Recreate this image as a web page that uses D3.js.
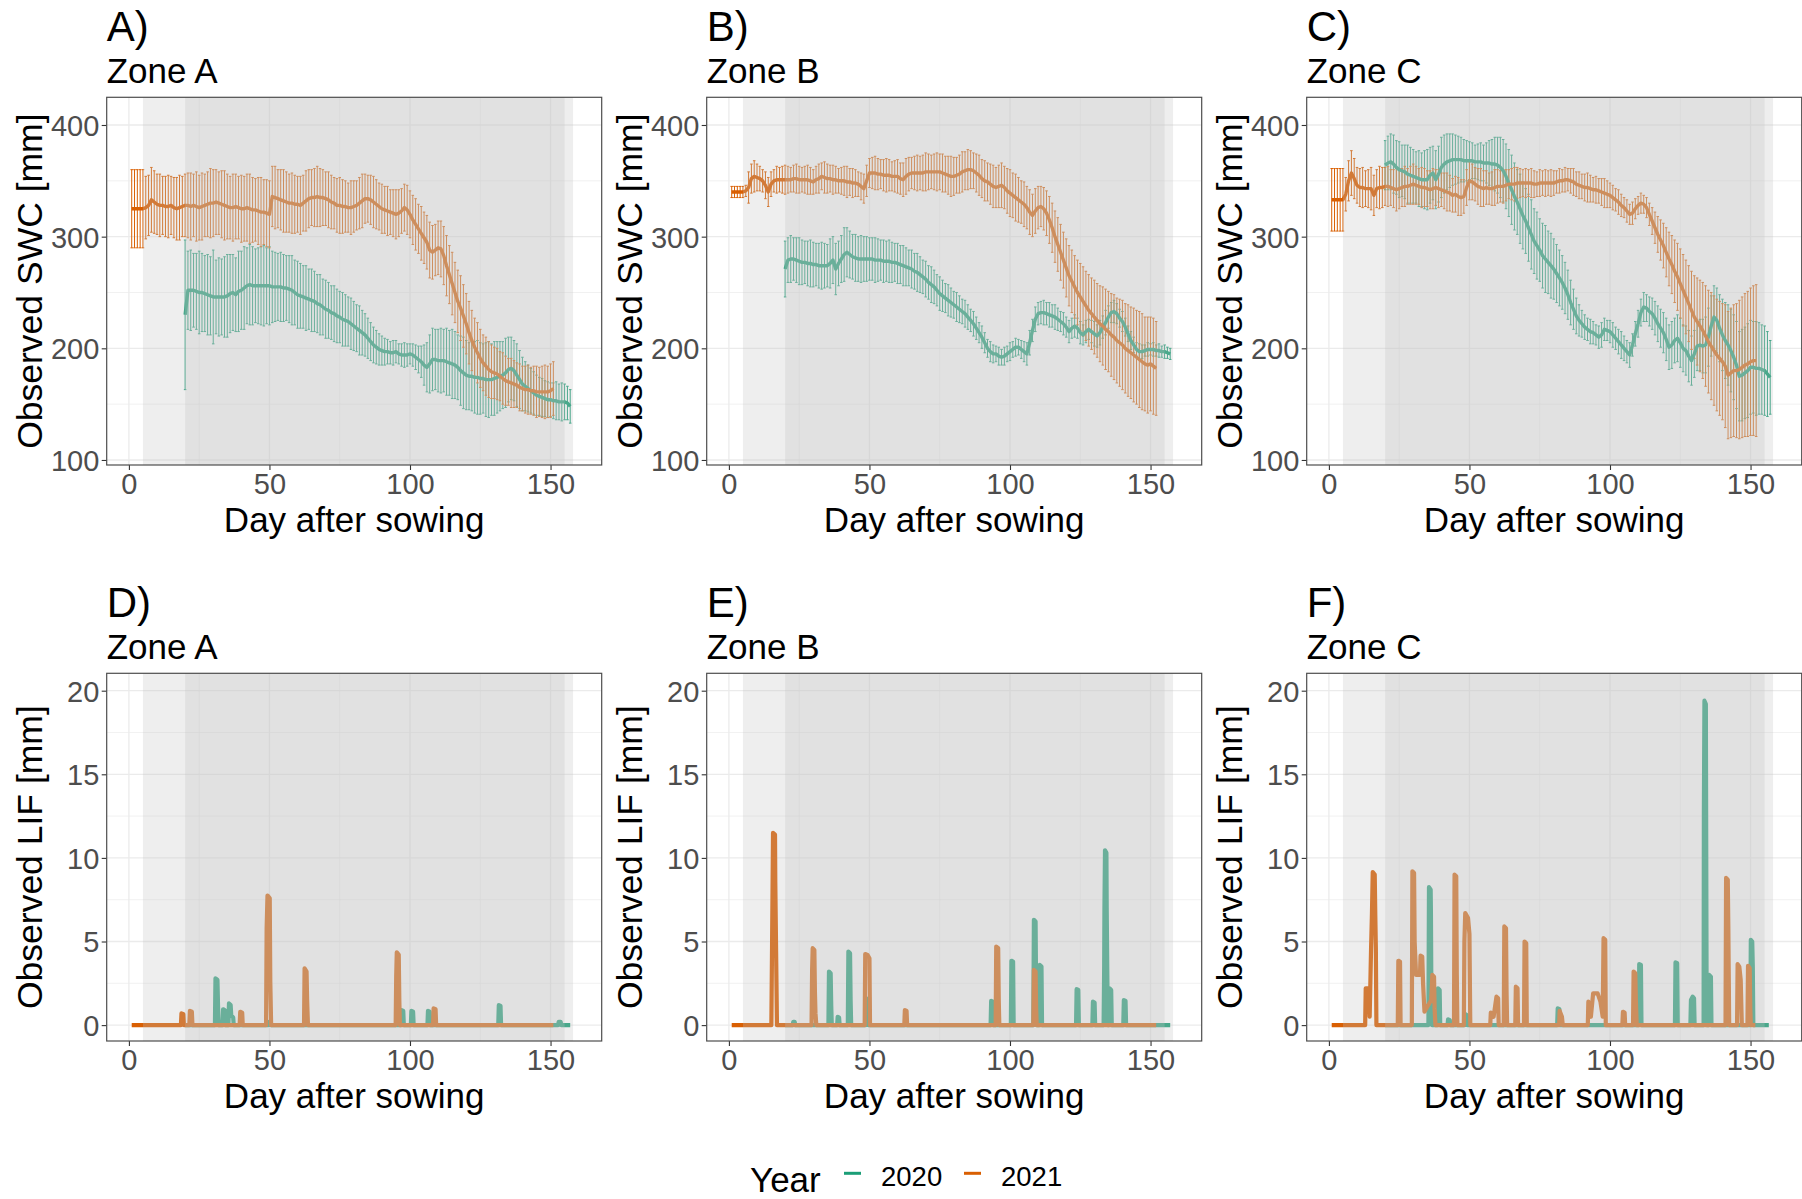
<!DOCTYPE html>
<html>
<head>
<meta charset="utf-8">
<script src="https://cdn.jsdelivr.net/npm/d3@7"></script>
<style>
  html, body { margin: 0; padding: 0; background: #fff; }
  svg { display: block; font-family: "Liberation Sans", Arial, sans-serif; }
</style>
</head>
<body>
<svg id="chart" width="1802" height="1199"></svg>
<script>
// ---------------- data ----------------
const years = ["2020", "2021"];
const yearColors = ["#1b9e77", "#d95f02"];
const zones = ["Zone A", "Zone B", "Zone C"];
const swcLetters = ["A)", "B)", "C)"];
const lifLetters = ["D)", "E)", "F)"];
const xTicks = [0, 50, 100, 150];
const swcTicks = [100, 200, 300, 400];
const lifTicks = [0, 5, 10, 15, 20];
const start2020 = 20;   // first observed day, 2020 season
const start2021 = 1;    // first observed day, 2021 season

// growth-phase bands (day after sowing)
const outerBand = [5, 158];
const innerBand = [20, 155];

// Soil water content, daily mean and half-width of error bar [mm]
const swcA2021Mean = [325,325,325,325,325,326,328,333,331,329,328,328,327,327,328,326,325,326,327,328,
  328,327,328,327,326,327,328,329,330,330,331,330,329,328,327,326,326,327,326,325,
  325,326,325,324,324,323,322,322,321,320,336,335,334,333,332,331,330,330,329,329,
  328,330,332,334,335,335,336,335,335,334,333,331,330,328,328,327,327,326,326,327,
  328,330,332,334,334,333,331,329,327,325,324,323,322,321,320,321,323,326,324,320,
  315,311,307,303,299,295,288,286,288,290,289,283,274,266,258,250,242,236,229,222,
  214,207,201,196,191,187,184,181,179,178,177,175,173,171,170,169,168,167,165,164,
  163,163,162,162,161,161,161,161,161,162,164];
const swcA2021Err = [35,35,35,35,35,28,27,29,28,27,28,26,27,28,26,27,28,29,27,28,
  29,30,28,31,29,30,28,29,31,30,29,28,30,31,29,28,30,29,28,30,
  29,30,31,29,28,30,31,29,30,30,27,28,26,27,28,27,26,27,26,25,
  26,25,27,26,25,26,27,26,25,24,25,24,23,24,25,24,23,22,24,23,
  22,23,24,22,21,22,23,22,21,22,21,22,20,21,22,21,20,21,22,21,
  22,23,22,24,23,24,25,24,23,24,25,26,27,26,28,27,28,29,28,27,
  28,27,26,27,26,25,26,25,24,23,23,22,23,22,21,22,21,20,21,20,
  21,22,21,22,23,22,23,24,23,24,24];
const swcA2020Mean = [230,
  252,252,252,251,250,250,249,248,247,246,246,246,246,246,247,249,250,248,251,252,
  254,256,257,256,256,256,256,256,256,256,255,255,255,255,254,254,253,252,250,248,
  247,246,245,244,243,242,240,239,237,235,234,232,231,229,228,226,225,224,222,220,
  218,216,214,212,209,206,203,201,199,198,197,197,196,196,197,195,194,194,194,195,
  194,192,190,188,185,183,186,190,190,189,189,189,188,187,186,185,183,180,178,176,
  175,175,174,174,173,173,172,172,172,173,174,175,176,178,181,182,180,176,172,168,
  166,164,162,160,158,157,156,155,154,154,153,153,152,152,152,151,148];
const swcA2020Err = [67,
  35,36,33,34,37,35,34,36,35,42,33,35,34,36,37,35,34,33,36,35,
  37,34,36,35,33,34,35,36,34,35,32,31,30,31,30,29,30,31,29,30,
  29,28,29,27,28,27,26,27,25,26,25,24,25,24,23,24,23,22,23,22,
  21,22,20,19,18,17,16,15,14,13,12,11,10,11,10,9,10,11,10,9,
  10,11,12,14,18,22,26,28,27,28,29,28,30,29,31,30,29,31,32,31,
  30,31,32,33,32,31,33,34,32,33,32,31,30,31,29,28,27,28,26,24,
  22,21,20,19,18,17,17,16,16,15,16,17,16,17,16,15,15];

const swcB2021Mean = [340,340,340,340,340,341,344,352,354,353,352,350,346,340,347,350,351,351,351,351,
  351,351,352,352,351,351,351,351,350,349,351,352,354,353,352,352,351,351,350,350,
  350,349,349,348,348,347,345,343,350,357,357,357,356,356,355,355,355,354,354,354,
  352,351,354,356,357,357,357,357,357,358,358,358,358,358,358,357,356,355,354,354,
  355,356,358,359,360,360,359,357,355,352,350,349,347,345,344,345,346,344,341,339,
  337,335,333,331,329,326,322,319,323,326,327,325,321,315,308,300,293,286,279,272,
  265,260,255,250,246,242,238,234,231,228,225,222,220,217,215,212,210,207,205,203,
  200,198,196,194,192,190,188,186,185,186,184,182];
const swcB2021Err = [5,5,5,5,5,5,14,13,14,12,11,10,12,13,11,10,12,11,12,13,
  12,11,12,13,12,11,12,13,12,11,12,13,12,14,13,12,13,12,11,12,
  13,14,12,13,12,11,12,13,14,13,14,15,14,13,14,15,14,13,14,15,
  14,15,16,15,14,15,16,15,16,17,16,15,16,17,16,17,16,17,18,17,
  16,17,18,17,18,17,16,17,18,17,18,17,18,19,18,19,20,19,20,21,
  20,21,20,19,20,19,20,19,20,19,18,19,20,21,22,23,24,25,25,26,
  27,28,28,29,30,31,31,32,32,33,33,34,35,36,36,37,38,38,39,40,
  40,41,41,42,42,43,43,42,43,42,43,42];
const swcB2020Mean = [271,
  279,280,280,279,278,277,277,276,276,275,275,274,274,274,274,276,279,271,276,280,
  284,286,284,282,281,280,280,280,280,280,280,279,279,279,278,278,278,277,277,276,
  275,274,273,272,271,269,268,266,264,262,259,257,255,252,249,247,245,243,241,239,
  237,235,233,231,228,225,222,218,214,210,205,200,197,195,195,193,192,193,195,197,
  199,201,201,199,197,195,205,216,226,231,232,232,231,230,229,228,226,224,222,219,
  215,218,220,218,214,212,215,217,215,213,211,214,219,223,228,232,233,231,227,224,
  219,213,207,203,199,197,197,198,199,199,199,198,198,197,197,196,195];
const swcB2020Err = [25,
  20,21,19,20,21,20,19,20,21,20,19,20,21,20,19,22,21,23,20,21,
  24,22,21,20,21,20,21,20,20,19,19,20,19,18,19,18,19,18,17,18,
  17,18,17,16,17,16,17,16,15,16,15,16,15,14,15,14,13,14,13,12,
  13,12,11,12,11,10,11,10,9,10,9,8,9,8,7,8,7,8,7,8,
  7,8,7,8,9,10,11,10,11,10,10,11,10,11,10,11,10,9,10,9,
  10,9,10,9,10,9,10,9,10,11,10,11,10,11,10,9,10,9,8,9,
  8,7,8,7,6,7,6,5,6,5,6,5,6,5,6,5,5];

const swcC2021Mean = [333,333,333,333,333,338,350,357,352,346,344,344,343,343,343,337,343,344,344,345,
  345,344,343,342,343,344,345,345,346,347,346,345,344,344,343,342,343,344,343,342,
  341,340,339,337,338,336,335,336,344,350,349,347,345,344,343,344,343,343,344,345,
  345,345,346,347,347,347,348,348,348,348,348,348,347,347,348,348,348,348,348,348,
  349,350,350,351,351,350,349,347,346,345,344,344,343,342,342,341,340,339,338,337,
  335,333,331,328,326,323,320,321,325,328,330,329,326,320,314,308,302,297,292,286,
  280,275,269,264,258,252,246,240,234,228,224,220,216,211,206,202,198,194,191,188,
  184,176,178,180,180,181,183,185,186,188,189,189];
const swcC2021Err = [28,28,28,28,28,15,18,20,18,16,17,18,16,17,19,18,17,19,18,17,
  18,16,17,19,18,17,18,16,17,18,17,16,18,17,16,17,18,16,17,15,
  16,17,16,15,16,17,16,15,16,17,16,15,16,17,16,15,14,15,16,15,
  14,15,14,13,14,15,14,13,12,13,12,13,12,11,12,11,12,11,12,11,
  10,11,10,11,10,11,12,11,12,11,12,13,12,11,12,11,12,13,12,11,
  11,10,11,10,9,10,9,10,9,8,9,8,9,10,12,14,16,18,20,22,
  24,26,28,30,31,32,33,34,35,37,39,41,43,45,46,48,49,50,51,52,
  55,57,58,59,60,62,63,64,65,66,67,68];
const swcC2020Mean = [364,
  366,367,365,362,360,359,358,356,355,354,353,352,351,351,351,355,357,351,356,362,
  365,367,368,369,369,369,369,368,368,368,368,367,367,367,366,366,366,365,365,364,
  362,359,354,348,342,336,331,325,319,314,308,302,296,292,288,283,280,277,274,271,
  267,263,259,254,248,241,235,229,225,222,219,217,215,214,212,210,212,217,216,215,
  212,209,206,203,200,197,194,203,213,222,232,237,236,233,231,227,222,218,214,208,
  201,203,207,209,205,200,198,193,189,195,202,203,202,203,210,220,228,225,218,212,
  207,203,198,192,185,175,176,178,180,183,183,182,182,181,180,177,174];
const swcC2020Err = [22,
  24,25,26,24,25,23,24,26,25,24,23,25,24,26,27,25,24,26,25,27,
  26,25,24,23,22,21,20,19,18,17,16,15,16,17,16,18,20,22,24,25,
  27,28,29,30,31,30,29,31,30,29,30,31,29,30,28,29,30,28,29,27,
  26,25,24,23,22,20,18,16,14,12,11,10,11,10,9,10,11,10,9,10,
  11,10,11,12,11,10,11,10,11,12,12,13,12,13,14,15,16,17,18,19,
  20,21,20,21,22,21,22,23,22,21,22,23,24,25,26,27,28,29,30,32,
  34,36,37,38,39,40,41,41,42,42,41,42,41,40,40,38,33];

// Leachate (LIF) as [day, mm] points; flat zero between events
const lifA2021 = [[1,0],
  [18.5,0],[18.7,0.7],[19.4,0.65],[19.6,0],
  [21.5,0],[21.7,0.85],[22.4,0.8],[22.6,0],
  [39.4,0],[39.6,0.8],[40.3,0.75],[40.5,0],
  [48.8,0],[49,5.8],[49.3,7.75],[50.1,7.6],[50.3,2.6],[50.6,0],
  [62.3,0],[62.5,3.4],[63.2,3.2],[63.4,1.5],[63.7,0],
  [94.9,0],[95.1,3.0],[95.3,4.35],[96,4.2],[96.2,1.5],[96.4,0],
  [108.2,0],[108.4,1.0],[109.1,0.95],[109.3,0],
  [151,0]];
const lifA2020 = [[20,0],
  [30.6,0],[30.8,2.8],[31.5,2.7],[31.7,1.2],[31.9,0],
  [33.3,0],[33.5,0.95],[34.1,0.9],[34.3,0],
  [35.4,0],[35.6,1.3],[36.2,1.2],[36.4,0.6],[37.1,0.45],[37.3,0],
  [49.6,0],[49.8,0.2],[50.3,0.2],[50.5,0],
  [96.8,0],[97,0.9],[97.6,0.85],[97.8,0],
  [100.3,0],[100.5,0.85],[101.1,0.8],[101.3,0],
  [106.2,0],[106.4,0.85],[107,0.8],[107.2,0],
  [131.4,0],[131.6,1.2],[132.2,1.15],[132.4,0],
  [152.7,0],[152.9,0.2],[153.6,0.2],[153.8,0],
  [157,0]];
const lifB2021 = [[1,0],
  [15.1,0],[15.3,3.8],[15.5,7.6],[15.7,11.5],[16.4,11.4],[16.5,8.6],[16.7,5.7],[16.9,2.8],[17.1,0],
  [29.4,0],[29.6,3.3],[29.8,4.6],[30.4,4.5],[30.6,2.0],[30.8,0.7],[31.1,0],
  [48.3,0],[48.5,4.25],[49.3,4.2],[50,4.0],[50.2,0],
  [62.4,0],[62.6,0.9],[63.2,0.85],[63.4,0],
  [94.9,0],[95.1,4.7],[95.8,4.6],[96,1.5],[96.2,0],
  [108.3,0],[108.5,3.3],[109.1,3.2],[109.3,1.0],[109.5,0],
  [152,0]];
const lifB2020 = [[20,0],
  [22.7,0],[22.9,0.2],[23.4,0.2],[23.6,0],
  [35.4,0],[35.6,3.2],[36.2,3.1],[36.4,1.2],[36.6,0],
  [38.5,0],[38.7,0.5],[39.2,0.45],[39.4,0],
  [42.3,0],[42.5,4.4],[43.1,4.3],[43.3,1.5],[43.5,0],
  [48.7,0],[48.9,1.6],[49.4,1.5],[49.6,0],
  [93.1,0],[93.3,1.45],[93.9,1.4],[94.1,0],
  [100.3,0],[100.5,3.85],[101.1,3.8],[101.3,0],
  [108.3,0],[108.5,6.3],[109.1,6.2],[109.3,2.0],[109.5,0],
  [110.4,0],[110.6,3.6],[111.2,3.5],[111.4,0],
  [123.5,0],[123.7,2.15],[124.3,2.1],[124.5,0],
  [129.3,0],[129.5,1.4],[130.1,1.35],[130.3,0],
  [133.3,0],[133.5,3.4],[133.6,7.0],[133.8,10.45],[134.3,10.3],[134.4,7.0],[134.6,3.4],[134.8,0],
  [135.2,0],[135.4,2.2],[136,2.1],[136.2,0],
  [140.3,0],[140.5,1.5],[141.1,1.45],[141.3,0],
  [157,0]];
const lifC2021 = [[1,0],
  [12.9,0],[13.1,2.2],[14.2,2.2],[14.5,0.5],[15,4.6],[15.3,6.6],[15.6,9.15],[16.3,9.0],[16.5,6.6],[16.7,4.6],[16.9,0],
  [24.5,0],[24.7,3.85],[25.3,3.8],[25.5,0],
  [29.5,0],[29.7,9.2],[30.3,9.1],[30.5,5.0],[31,3.0],[32.4,3.0],[32.6,4.15],[33.2,4.1],[33.5,2.5],[34,0.8],
  [36.4,1.5],[36.8,3.0],[37.4,2.9],[37.6,1.0],[37.9,0],
  [44.5,0],[44.7,9.0],[45.3,8.9],[45.5,3.0],[45.7,0],
  [48,0],[48.2,5.0],[48.5,6.7],[49.5,6.4],[50,5.45],[50.3,0],
  [57.4,0],[57.6,0.75],[58.6,0.5],[59.6,1.7],[60.2,1.6],[60.4,0],
  [62.2,0],[62.4,5.9],[63,5.8],[63.2,2.0],[63.4,0],
  [66.3,0],[66.5,2.3],[67.1,2.2],[67.3,0],
  [69.4,0],[69.6,5.0],[70.2,4.9],[70.4,0],
  [81.9,0],[82.1,0.85],[82.9,0.5],[83.2,0],
  [92.1,0],[92.3,1.4],[93.2,0.5],[94,1.9],[95.6,1.9],[96.6,1.4],[97.4,0.5],[97.7,5.2],[98.3,5.1],[98.5,0],
  [104.4,0],[104.6,0.8],[105.2,0.75],[105.4,0],
  [108.2,0],[108.4,3.2],[109,3.1],[109.2,1.5],[109.5,0],
  [141.1,0],[141.3,8.8],[141.9,8.7],[142.1,5.8],[142.4,0],
  [145.2,0],[145.4,3.65],[146,3.5],[146.5,2.7],[146.9,0],
  [148.9,0],[149.1,3.55],[149.7,3.4],[149.9,1.0],[150.1,0],
  [151.7,0]];
const lifC2020 = [[20,0],
  [35.4,0],[35.6,8.25],[36.2,8.1],[36.3,6.6],[36.5,0.5],[36.7,0],
  [38.6,0],[38.8,2.2],[39.4,2.1],[39.6,0],
  [42.2,0],[42.4,0.35],[43,0.3],[43.2,0],
  [48.3,0],[48.5,0.65],[49.1,0.6],[49.3,0],
  [81.2,0],[81.4,1.0],[82,0.95],[82.2,0],
  [110.2,0],[110.4,3.65],[111,3.6],[111.2,0],
  [123.1,0],[123.3,3.75],[123.9,3.7],[124.1,0],
  [128.6,0],[128.8,1.5],[129.4,1.7],[129.9,1.6],[130.1,0],
  [133.3,0],[133.4,12.8],[133.6,19.4],[134.1,19.2],[134.2,12.8],[134.4,0],
  [135.1,0],[135.3,3.0],[135.9,2.9],[136.1,0],
  [149.9,0],[150.1,5.1],[150.6,5.0],[150.8,3.5],[151,0],
  [156.5,0]];

// ---------------- layout ----------------
const svg = d3.select("#chart");
const colLeft = [106.7, 706.7, 1306.7];
const rowTop = [97.3, 673.3];
const pw = 495, ph = 367.7;
const xDomain = [-7.9, 168.2];
const swcDomain = [95.5, 424.8];
const lifDomain = [-0.95, 21.04];

const swcSeries = [
  { y2020: [swcA2020Mean, swcA2020Err], y2021: [swcA2021Mean, swcA2021Err] },
  { y2020: [swcB2020Mean, swcB2020Err], y2021: [swcB2021Mean, swcB2021Err] },
  { y2020: [swcC2020Mean, swcC2020Err], y2021: [swcC2021Mean, swcC2021Err] }
];
const lifSeries = [
  { y2020: lifA2020, y2021: lifA2021 },
  { y2020: lifB2020, y2021: lifB2021 },
  { y2020: lifC2020, y2021: lifC2021 }
];

function toDaily(start, means, errs) {
  return means.map((m, i) => ({ day: start + i, mean: m, err: errs[i] }));
}

function panelFrame(g, x, y, letter, zone, yTicks, yMinor, yTitle) {
  // panel letter and zone title
  g.append("text").attr("x", 0).attr("y", -56.6)
    .attr("font-size", 42).attr("fill", "#000").text(letter);
  g.append("text").attr("x", 0).attr("y", -14.6)
    .attr("font-size", 35).attr("fill", "#000").text(zone);

  // grid
  const grid = g.append("g");
  grid.selectAll(".ymin").data(yMinor).join("line")
    .attr("x1", 0).attr("x2", pw).attr("y1", d => y(d)).attr("y2", d => y(d))
    .attr("stroke", "#ebebeb").attr("stroke-width", 0.7);
  grid.selectAll(".xmin").data([25, 75, 125]).join("line")
    .attr("y1", 0).attr("y2", ph).attr("x1", d => x(d)).attr("x2", d => x(d))
    .attr("stroke", "#ebebeb").attr("stroke-width", 0.7);
  grid.selectAll(".ymaj").data(yTicks).join("line")
    .attr("x1", 0).attr("x2", pw).attr("y1", d => y(d)).attr("y2", d => y(d))
    .attr("stroke", "#ebebeb").attr("stroke-width", 1.3);
  grid.selectAll(".xmaj").data(xTicks).join("line")
    .attr("y1", 0).attr("y2", ph).attr("x1", d => x(d)).attr("x2", d => x(d))
    .attr("stroke", "#ebebeb").attr("stroke-width", 1.3);

  // axes
  const yAxis = d3.axisLeft(y).tickValues(yTicks).tickSize(5).tickPadding(3).tickFormat(d3.format("d"));
  const ya = g.append("g").call(yAxis);
  const xAxis = d3.axisBottom(x).tickValues(xTicks).tickSize(5).tickPadding(4).tickFormat(d3.format("d"));
  const xa = g.append("g").attr("transform", `translate(0,${ph})`).call(xAxis);
  [ya, xa].forEach(a => {
    a.select(".domain").remove();
    a.selectAll(".tick line").attr("stroke", "#333").attr("stroke-width", 1.1);
    a.selectAll(".tick text").attr("fill", "#4d4d4d").attr("font-size", 29)
      .attr("font-family", "'Liberation Sans', Arial, sans-serif");
  });
  xa.selectAll(".tick text").attr("dy", null).attr("y", 28.5);
  ya.selectAll(".tick text").attr("dy", "0.36em").attr("x", -7.4);

  // axis titles
  g.append("text").attr("x", pw / 2).attr("y", ph + 67)
    .attr("text-anchor", "middle").attr("font-size", 35).attr("fill", "#000")
    .text("Day after sowing");
  g.append("text")
    .attr("transform", `translate(-65,${ph / 2}) rotate(-90)`)
    .attr("text-anchor", "middle").attr("font-size", 35.5).attr("fill", "#000")
    .text(yTitle);
}

function panelBands(g, x) {
  // growth-phase shading laid over the data
  [outerBand, innerBand].forEach(b => {
    g.append("rect").attr("x", x(b[0])).attr("y", 0)
      .attr("width", x(b[1]) - x(b[0])).attr("height", ph)
      .attr("fill", "rgb(195,195,195)").attr("fill-opacity", 0.28);
  });
  g.append("rect").attr("x", 0).attr("y", 0).attr("width", pw).attr("height", ph)
    .attr("fill", "none").attr("stroke", "#4d4d4d").attr("stroke-width", 1.2);
}

// ---------------- SWC panels ----------------
zones.forEach((zone, zi) => {
  const g = svg.append("g").attr("transform", `translate(${colLeft[zi]},${rowTop[0]})`);
  const x = d3.scaleLinear().domain(xDomain).range([0, pw]);
  const y = d3.scaleLinear().domain(swcDomain).range([ph, 0]);
  panelFrame(g, x, y, swcLetters[zi], zone, swcTicks, [150, 250, 350], "Observed SWC [mm]");

  const s = swcSeries[zi];
  const sets = [
    { data: toDaily(start2020, s.y2020[0], s.y2020[1]), color: yearColors[0] },
    { data: toDaily(start2021, s.y2021[0], s.y2021[1]), color: yearColors[1] }
  ];
  const cap = 0.45;
  sets.forEach(set => {
    const eb = g.append("g").attr("stroke", set.color).attr("stroke-width", 1).attr("fill", "none");
    eb.selectAll(".v").data(set.data).join("line")
      .attr("x1", d => x(d.day)).attr("x2", d => x(d.day))
      .attr("y1", d => y(d.mean - d.err)).attr("y2", d => y(d.mean + d.err));
    eb.selectAll(".t").data(set.data).join("line")
      .attr("x1", d => x(d.day - cap)).attr("x2", d => x(d.day + cap))
      .attr("y1", d => y(d.mean + d.err)).attr("y2", d => y(d.mean + d.err));
    eb.selectAll(".b").data(set.data).join("line")
      .attr("x1", d => x(d.day - cap)).attr("x2", d => x(d.day + cap))
      .attr("y1", d => y(d.mean - d.err)).attr("y2", d => y(d.mean - d.err));
  });
  const line = d3.line().x(d => x(d.day)).y(d => y(d.mean));
  sets.forEach(set => {
    g.append("path").datum(set.data).attr("d", line)
      .attr("fill", "none").attr("stroke", set.color).attr("stroke-width", 3.4)
      .attr("stroke-linejoin", "round");
  });
  panelBands(g, x);
});

// ---------------- LIF panels ----------------
zones.forEach((zone, zi) => {
  const g = svg.append("g").attr("transform", `translate(${colLeft[zi]},${rowTop[1]})`);
  const x = d3.scaleLinear().domain(xDomain).range([0, pw]);
  const y = d3.scaleLinear().domain(lifDomain).range([ph, 0]);
  panelFrame(g, x, y, lifLetters[zi], zone, lifTicks, [2.5, 7.5, 12.5, 17.5], "Observed LIF [mm]");

  const s = lifSeries[zi];
  const line = d3.line().x(d => x(d[0])).y(d => y(d[1]));
  [[s.y2020, yearColors[0]], [s.y2021, yearColors[1]]].forEach(([pts, col]) => {
    g.append("path").datum(pts).attr("d", line)
      .attr("fill", "none").attr("stroke", col).attr("stroke-width", 4.2)
      .attr("stroke-linejoin", "round");
  });
  panelBands(g, x);
});

// ---------------- legend ----------------
const legend = svg.append("g");
legend.append("text").attr("x", 750).attr("y", 1191.7)
  .attr("font-size", 35).attr("fill", "#000").text("Year");
const keyX = [844, 964];
years.forEach((yr, i) => {
  legend.append("line").attr("x1", keyX[i]).attr("x2", keyX[i] + 17)
    .attr("y1", 1173.3).attr("y2", 1173.3)
    .attr("stroke", yearColors[i]).attr("stroke-width", 3);
  legend.append("text").attr("x", keyX[i] + 37).attr("y", 1186)
    .attr("font-size", 27.5).attr("fill", "#000").text(yr);
});
</script>
</body>
</html>
